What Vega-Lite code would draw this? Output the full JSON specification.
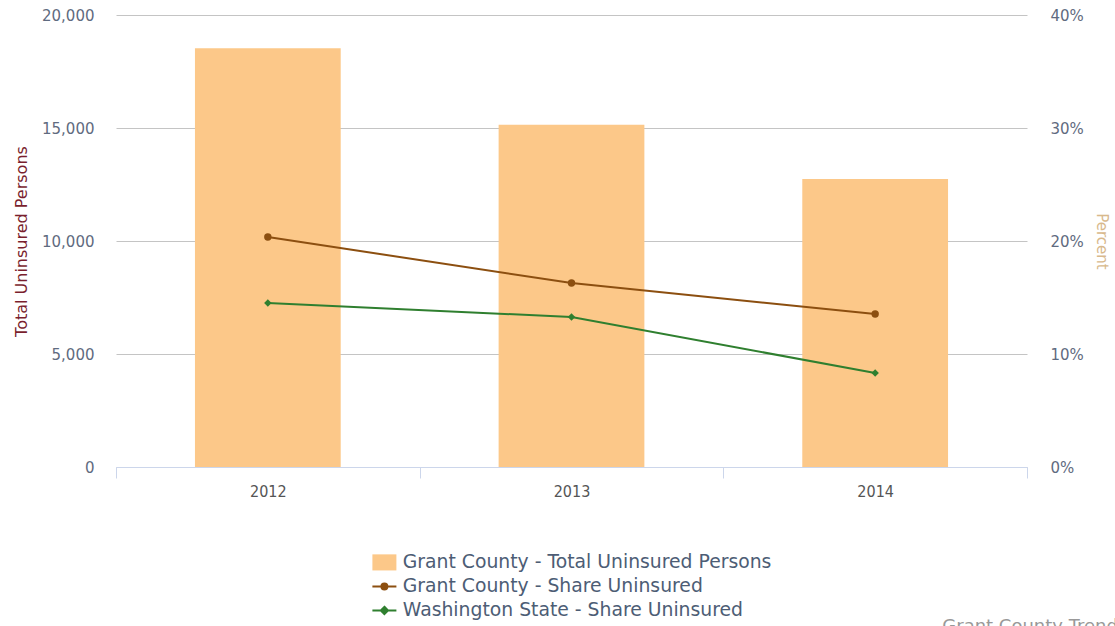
{
  "$schema": "https://vega.github.io/schema/vega-lite/v6.json",
  "width": 911,
  "height": 452,
  "autosize": {"type": "none"},
  "padding": {"left": 116, "top": 15, "right": 88, "bottom": 159},
  "background": "white",
  "config": {
    "font": "DejaVu Sans",
    "view": {"stroke": null}
  },
  "title": {
    "text": "Grant County Trends",
    "orient": "bottom",
    "anchor": "end",
    "offset": -3,
    "dx": 19,
    "fontSize": 18,
    "fontWeight": "normal",
    "color": "#999999",
    "font": "DejaVu Sans"
  },
  "data": {
    "values": [
      {"year": "2012", "series": "Grant County - Total Uninsured Persons", "value": 18527},
      {"year": "2013", "series": "Grant County - Total Uninsured Persons", "value": 15146},
      {"year": "2014", "series": "Grant County - Total Uninsured Persons", "value": 12743},
      {"year": "2012", "series": "Grant County - Share Uninsured", "value": 0.2035},
      {"year": "2013", "series": "Grant County - Share Uninsured", "value": 0.1628},
      {"year": "2014", "series": "Grant County - Share Uninsured", "value": 0.1354},
      {"year": "2012", "series": "Washington State - Share Uninsured", "value": 0.1451},
      {"year": "2013", "series": "Washington State - Share Uninsured", "value": 0.1327},
      {"year": "2014", "series": "Washington State - Share Uninsured", "value": 0.0832}
    ]
  },
  "encoding": {
    "x": {
      "field": "year",
      "type": "ordinal",
      "scale": {"paddingInner": 0, "paddingOuter": 0},
      "axis": {
        "title": null,
        "labelAngle": 0,
        "domainColor": "#ccd6eb",
        "tickColor": "#ccd6eb",
        "tickBand": "extent",
        "tickSize": 11,
        "labelPadding": 5,
        "labelFont": "'DejaVu Sans Condensed', 'Liberation Sans Narrow', 'DejaVu Sans'",
        "labelFontSize": 16,
        "labelColor": "#555555",
        "grid": false
      }
    }
  },
  "layer": [
    {
      "transform": [{"filter": "datum.series === 'Grant County - Total Uninsured Persons'"}],
      "mark": {"type": "bar", "color": "#fcc889", "width": {"band": 0.48}},
      "encoding": {
        "y": {
          "field": "value",
          "type": "quantitative",
          "scale": {"domain": [0, 20000], "nice": false},
          "axis": {
            "title": "Total Uninsured Persons",
            "titleColor": "#7a1f2e",
            "titleFontSize": 16,
            "titleFontWeight": "normal",
            "titlePadding": 12,
            "values": [0, 5000, 10000, 15000, 20000],
            "format": ",.0f",
            "ticks": false,
            "domain": false,
            "grid": true,
            "gridColor": "#c4c4c4",
            "labelColor": "#5f6b80",
            "labelFontSize": 15,
            "labelPadding": 22
          }
        },
        "color": {
          "field": "series",
          "type": "nominal",
          "scale": {
            "domain": ["Grant County - Total Uninsured Persons", "Grant County - Share Uninsured", "Washington State - Share Uninsured"],
            "range": ["#fcc889", "#8c4f10", "#2f7f2f"]
          },
          "legend": {
            "title": null,
            "orient": "none",
            "direction": "vertical",
            "legendX": 259,
            "legendY": 538,
            "padding": 0,
            "rowPadding": 4,
            "labelFontSize": 18.8,
            "labelColor": "#4d5d75",
            "labelOffset": 9,
            "labelLimit": 600,
            "symbolSize": 576,
            "encode": {
              "symbols": {
                "update": {
                  "shape": {"signal": "datum.value === 'Grant County - Total Uninsured Persons' ? 'M-1,-0.67H1V0.67H-1Z' : (datum.value === 'Grant County - Share Uninsured' ? 'M-1,0H1M0.25,0A0.25,0.25 0 1,1 -0.25,0A0.25,0.25 0 1,1 0.25,0Z' : 'M-1,0H1M0,-0.3L0.3,0L0,0.3L-0.3,0Z')"},
                  "fill": {"scale": "color", "field": "value"},
                  "stroke": {"scale": "color", "field": "value"},
                  "strokeWidth": {"signal": "datum.value === 'Grant County - Total Uninsured Persons' ? 0 : 2"},
                  "size": {"value": 576},
                  "opacity": {"value": 1}
                }
              }
            }
          }
        }
      }
    },
    {
      "transform": [{"filter": "datum.series !== 'Grant County - Total Uninsured Persons'"}],
      "encoding": {
        "y": {
          "field": "value",
          "type": "quantitative",
          "scale": {"domain": [0, 0.4], "nice": false},
          "axis": {
            "orient": "right",
            "title": "Percent",
            "titleColor": "#d8b98c",
            "titleFontSize": 15,
            "titleFontWeight": "normal",
            "titlePadding": 10,
            "values": [0, 0.1, 0.2, 0.3, 0.4],
            "format": ".0%",
            "ticks": false,
            "domain": false,
            "grid": false,
            "labelColor": "#5f6b80",
            "labelFontSize": 15,
            "labelPadding": 23
          }
        },
        "color": {"field": "series", "type": "nominal"}
      },
      "layer": [
        {"mark": {"type": "line", "strokeWidth": 2}},
        {
          "mark": {"type": "point", "filled": true, "opacity": 1},
          "encoding": {
            "shape": {
              "field": "series",
              "type": "nominal",
              "scale": {"domain": ["Grant County - Share Uninsured", "Washington State - Share Uninsured"], "range": ["circle", "diamond"]},
              "legend": null
            },
            "size": {"value": 55}
          }
        }
      ]
    }
  ],
  "resolve": {"scale": {"y": "independent"}}
}
